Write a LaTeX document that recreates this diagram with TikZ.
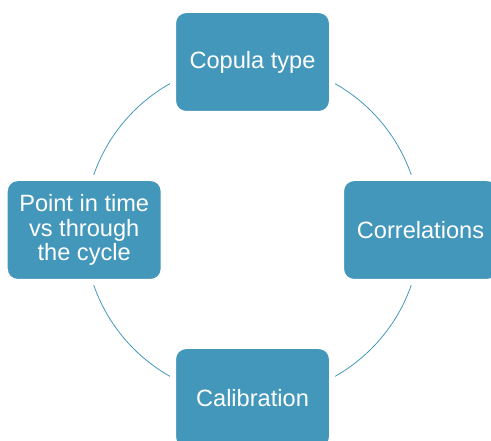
\documentclass[tikz,border=0pt]{standalone}
\usepackage{fontspec}
\setmainfont{Liberation Sans}
\definecolor{boxblue}{HTML}{4397BA}
\begin{document}
\begin{tikzpicture}[x=1pt,y=-1pt,
  cyclebox/.style={rectangle, rounded corners=13pt, fill=boxblue, draw=white,
    line width=6pt, minimum width=159pt, minimum height=104pt, inner sep=0pt,
    text=white, align=center, font=\fontsize{23.6}{24.5}\selectfont},
  ring/.style={draw=boxblue, line width=0.8pt}]
\useasboundingbox (0,0) rectangle (491,441);
\clip (0,0) rectangle (491,441);
\coordinate (c) at (252.5,230);
\draw[ring] (c) circle[radius=168];
\node[cyclebox] (top) at (252.5,62) {Copula type};
\node[cyclebox] (right) at (420.5,230) {Correlations};
\node[cyclebox] (bottom) at (252.5,398) {Calibration};
\node[cyclebox] (left) at (84.2,230) {Point in time\\vs through\\the cycle};
\end{tikzpicture}
\end{document}
